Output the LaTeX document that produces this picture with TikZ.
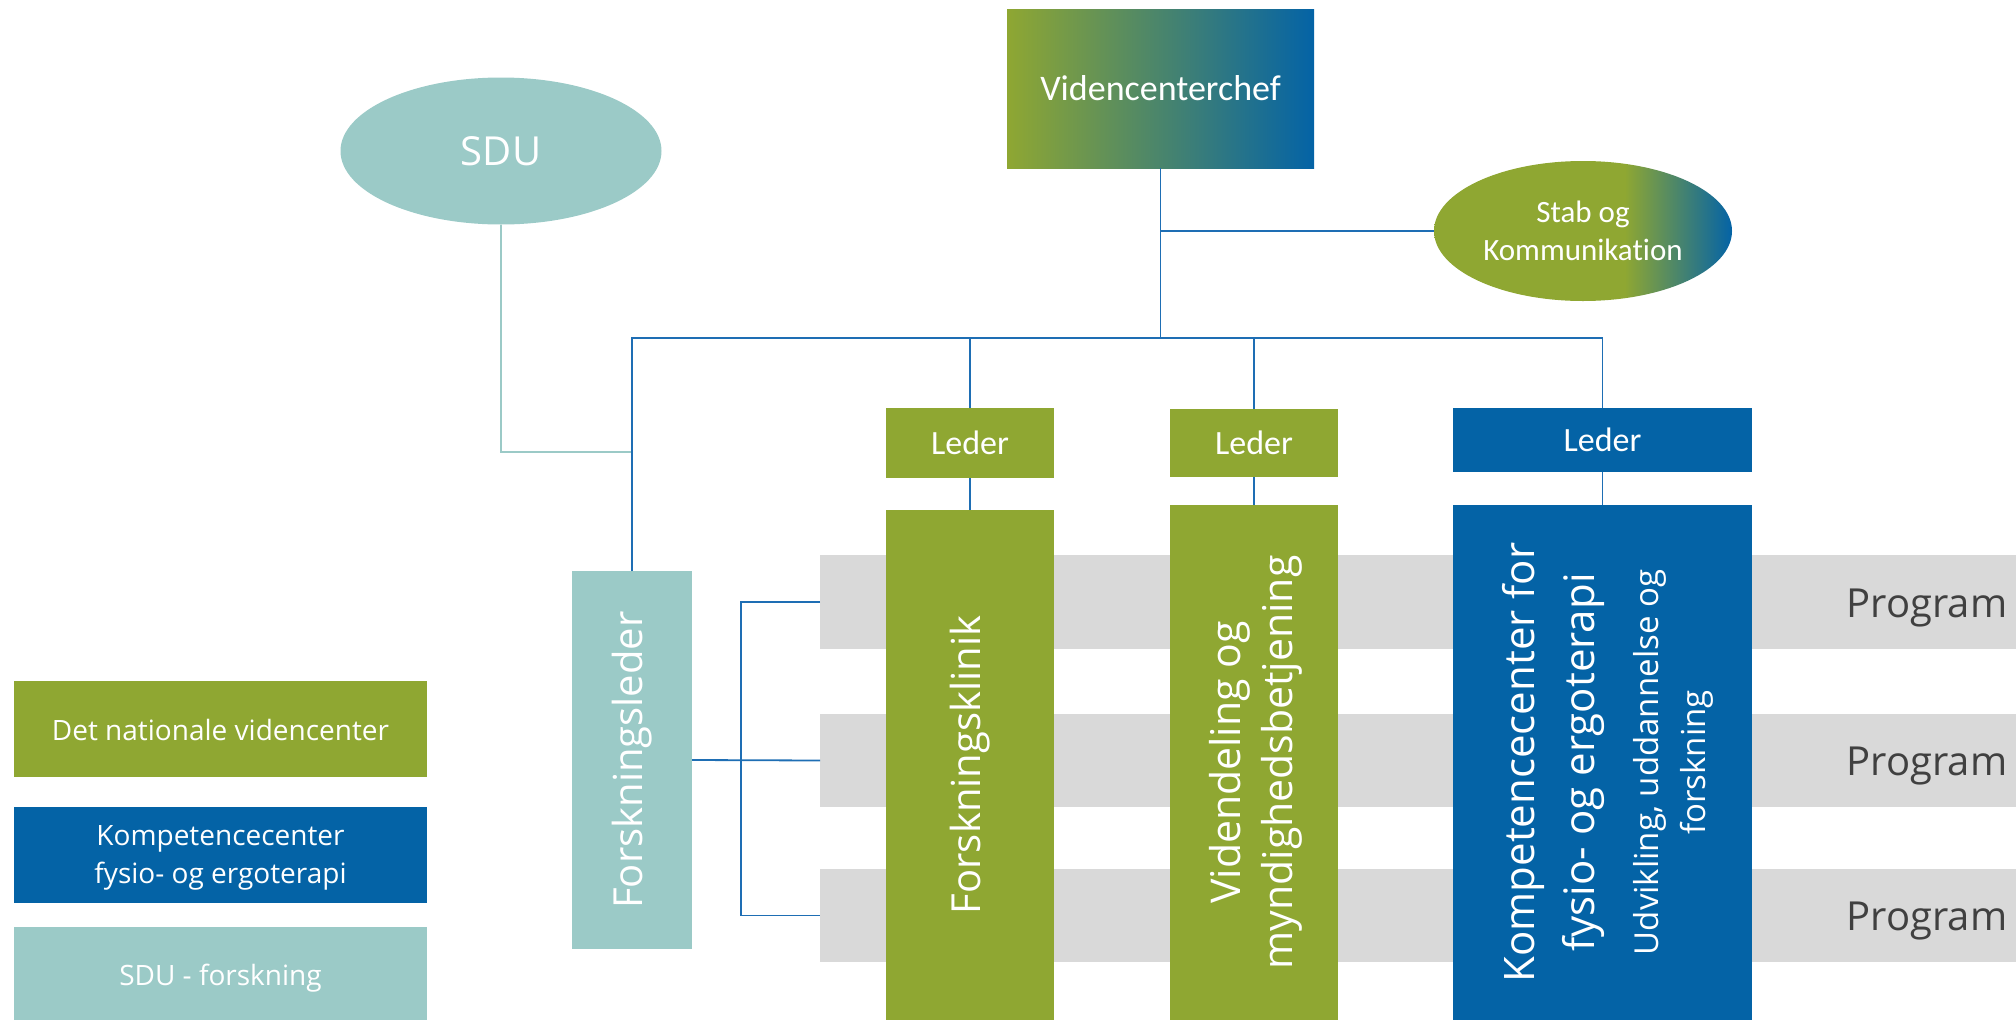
\documentclass[tikz,border=0pt]{standalone}
\usepackage{fontspec}
\setmainfont{Open Sans}
\newfontfamily\calfont[Ligatures=NoCommon]{Carlito}
\usetikzlibrary{shapes.geometric}
\definecolor{grn}{RGB}{143,167,50}
\definecolor{blu}{RGB}{4,99,166}
\definecolor{tea}{RGB}{155,202,199}
\definecolor{bnd}{RGB}{217,217,217}
\definecolor{prg}{RGB}{64,64,64}
\definecolor{lnb}{RGB}{30,110,180}
\pgfdeclarehorizontalshading{stabshade}{100bp}{color(0bp)=(grn); color(57bp)=(grn); color(75bp)=(blu); color(100bp)=(blu)}
\begin{document}
\begin{tikzpicture}[x=1pt,y=-1pt,
  box/.style={rectangle, inner sep=0pt, outer sep=0pt, draw=none},
  band/.style={box, fill=bnd, minimum width=1196pt},
  conn/.style={draw=lnb, line width=1.8pt},
  sduconn/.style={draw=tea, line width=1.8pt},
  vtxt/.style={text=white, rotate=90, align=center, inner sep=0pt},
  ledertxt/.style={text=white, font=\calfont\fontsize{34}{41}\selectfont},
  legtxt/.style={text=white, align=center, inner sep=0pt, font=\fontsize{28}{38}\selectfont},
  progtxt/.style={text=prg, inner sep=0pt, font=\fontsize{40}{48}\selectfont}
]
\useasboundingbox (0,0) rectangle (2016,1020);

% grey program bands
\node[band, minimum height=94pt] (b1) at (1418,602) {};
\node[band, minimum height=93pt] (b2) at (1418,760.5) {};
\node[band, minimum height=93pt] (b3) at (1418,915.5) {};
\node[progtxt] (p1) at (1927,608) {Program};
\node[progtxt] (p2) at (1927,766.5) {Program};
\node[progtxt] (p3) at (1927,921.5) {Program};

% top
\node[box, left color=grn, right color=blu, minimum width=307pt, minimum height=159pt,
  text=white, font=\calfont\fontsize{36}{43}\selectfont] (chief) at (1160.5,88.5) {Videncenterchef};
\node[ellipse, fill=tea, minimum width=321pt, minimum height=147pt, inner sep=0pt,
  text=white, font=\fontsize{40}{48}\selectfont] (sdu) at (501,151) {SDU};
\node[ellipse, shading=stabshade, minimum width=298pt, minimum height=140pt, inner sep=0pt,
  text=white, align=center, font=\calfont\fontsize{31}{38}\selectfont] (stab) at (1583,231) {Stab og\\Kommunikation};

% leaders
\node[box, fill=grn, minimum width=168pt, minimum height=70pt, ledertxt] (l1) at (970,443) {Leder};
\node[box, fill=grn, minimum width=168pt, minimum height=68pt, ledertxt] (l2) at (1254,443) {Leder};
\node[box, fill=blu, minimum width=299pt, minimum height=64pt, ledertxt] (l3) at (1602.5,440) {Leder};

% columns
\node[box, fill=tea, minimum width=120pt, minimum height=378pt] (fl) at (632,760) {};
\node[vtxt, font=\fontsize{40}{48}\selectfont] (flt) at (fl.center) {Forskningsleder};
\node[box, fill=grn, minimum width=168pt, minimum height=510pt] (klinik) at (970,765) {};
\node[vtxt, font=\fontsize{40}{48}\selectfont] (klinikt) at (klinik.center) {Forskningsklinik};
\node[box, fill=grn, minimum width=168pt, minimum height=515pt] (viden) at (1254,762.5) {};
\node[vtxt, font=\fontsize{41}{52}\selectfont] (vident) at (1256,762.5) {Videndeling og\\myndighedsbetjening};
\node[box, fill=blu, minimum width=299pt, minimum height=515pt] (komp) at (1602.5,762.5) {};
\node[vtxt, font=\fontsize{42}{60}\selectfont] (kompt) at (1553,762.5) {Kompetencecenter for\\fysio- og ergoterapi};
\node[vtxt, font=\fontsize{33}{47}\selectfont] (kompu) at (1673,762.5) {Udvikling, uddannelse og\\forskning};

% legend
\node[box, fill=grn, minimum width=413pt, minimum height=96pt] (leg1) at (220.5,729) {};
\node[legtxt] (leg1t) at (220.5,730) {Det nationale videncenter};
\node[box, fill=blu, minimum width=413pt, minimum height=96pt] (leg2) at (220.5,855) {};
\node[legtxt] (leg2t) at (220.5,858) {Kompetencecenter\\fysio- og ergoterapi};
\node[box, fill=tea, minimum width=413pt, minimum height=93pt] (leg3) at (220.5,973.5) {};
\node[legtxt] (leg3t) at (220.5,978) {SDU - forskning};

% connectors
\coordinate (busr) at (1602.5,338);
\coordinate (sdujoin) at (632,452);
\coordinate (brk) at (741,760);
\draw[sduconn] (sdu.south) |- (sdujoin);
\draw[conn] (chief.south) |- (stab.west);
\draw[conn] (chief.south) -- (chief.south |- busr);
\draw[conn] (fl.north) |- (busr) -- (l3.north);
\draw[conn] (l1.north) -- (l1.north |- busr);
\draw[conn] (l2.north) -- (l2.north |- busr);
\draw[conn] (l1.south) -- (klinik.north);
\draw[conn] (l2.south) -- (viden.north);
\draw[conn] (l3.south) -- (komp.north);
\draw[conn] (fl.east) -- (b2.west);
\draw[conn] (b1.west) -| (brk) |- (b3.west);
\end{tikzpicture}
\end{document}
